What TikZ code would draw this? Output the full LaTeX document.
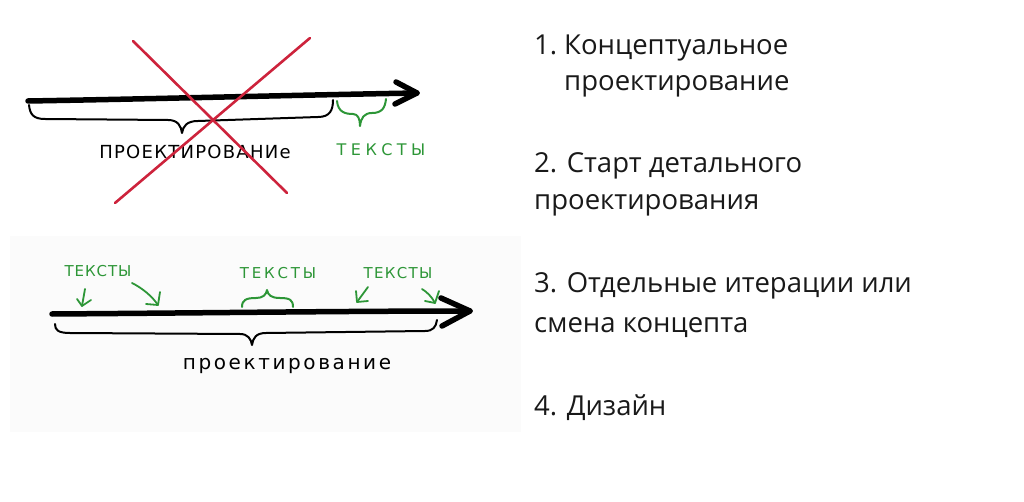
\documentclass[tikz,border=0pt]{standalone}
\usepackage{fontspec}
\setmainfont{Open Sans}
\newfontfamily\hand{DejaVu Sans}
\newcommand{\hw}[3]{{\hand\fontsize{#1}{#1}\selectfont\addfontfeature{LetterSpace=#2}#3}}
\definecolor{mkgreen}{RGB}{45,150,55}
\definecolor{mkred}{RGB}{205,35,60}
\definecolor{paper}{RGB}{251,251,251}
\definecolor{ink}{RGB}{25,25,25}
\tikzset{
  marker/.style={line width=5.5pt, line cap=round, line join=round, black},
  brace/.style={line width=2pt, line cap=round, line join=round},
  gbrace/.style={brace, mkgreen},
  garrow/.style={line width=1.8pt, line cap=round, line join=round, mkgreen},
  cross/.style={line width=2.6pt, line cap=round, mkred},
  handtxt/.style={inner sep=0pt},
  listtxt/.style={font=\fontsize{27.5}{40}\selectfont, text=ink, anchor=base west, inner sep=0pt}
}
\begin{document}
\begin{tikzpicture}[x=1pt,y=-1pt]
\useasboundingbox (0,0) rectangle (1024,502);
\fill[paper] (10,236) rectangle (521,432);

% ---------- top diagram ----------
\coordinate (a1s) at (28,101);
\coordinate (a1e) at (417,93);
\draw[marker] (a1s) .. controls (150,99) and (300,95) .. (a1e);
\draw[marker] (396,82) -- (a1e) -- (395,104);

% black brace
\coordinate (b1l) at (29,105);
\coordinate (b1t) at (182,133);
\coordinate (b1r) at (333,100);
\draw[brace] (b1l) .. controls (30,114) and (33,119) .. (45,119)
  -- (168,120) .. controls (178,120) and (181,126) .. (b1t)
  .. controls (183,126) and (187,121) .. (198,121)
  -- (318,117) .. controls (330,117) and (333,110) .. (b1r);
\node[handtxt] (proj1) at (195,152) {\hw{18}{7}{ПРОЕКТИРОВАНИе}};

% green brace
\coordinate (g1l) at (337,101);
\coordinate (g1t) at (360,126);
\coordinate (g1r) at (386,99);
\draw[gbrace] (g1l) .. controls (338,112) and (345,114) .. (353,114)
  .. controls (358,114) and (360,119) .. (g1t)
  .. controls (361,118) and (364,113) .. (372,113)
  .. controls (382,113) and (385,108) .. (g1r);
\node[handtxt, text=mkgreen] (txt1) at (381,150) {\hw{16}{28}{ТЕКСТЫ}};

% red cross
\coordinate (c1a) at (133,41);
\coordinate (c1b) at (287,193);
\coordinate (c2a) at (310,38);
\coordinate (c2b) at (115,203);
\draw[cross] (c1a) -- (c1b);
\draw[cross] (c2a) -- (c2b);

% ---------- bottom diagram ----------
\coordinate (a2s) at (52,314);
\coordinate (a2e) at (470,311);
\draw[marker] (a2s) .. controls (200,313) and (350,311) .. (a2e);
\draw[marker] (441,298) -- (a2e) -- (442,326);

% black brace
\coordinate (b2l) at (55,324);
\coordinate (b2t) at (252,345);
\coordinate (b2r) at (437,320);
\draw[brace] (b2l) .. controls (55,330) and (58,333) .. (70,333)
  -- (240,334) .. controls (248,334) and (251,339) .. (b2t)
  .. controls (253,338) and (256,333) .. (266,333)
  -- (425,331) .. controls (433,331) and (436,327) .. (b2r);
\node[handtxt] (proj2) at (287,366) {\hw{20}{13}{проектирование}};

% green labels
\node[handtxt, text=mkgreen] (t1) at (98,271) {\hw{15}{6}{ТЕКСТЫ}};
\node[handtxt, text=mkgreen] (t2) at (278,273) {\hw{15}{19}{ТЕКСТЫ}};
\node[handtxt, text=mkgreen] (t3) at (398,273) {\hw{15}{9}{ТЕКСТЫ}};

% green arrows
\coordinate (p1s) at (85,289);
\coordinate (p1e) at (82,306);
\draw[garrow] (p1s) -- (p1e);
\draw[garrow] (77,299) -- (p1e) -- (91,300);

\coordinate (p2s) at (132,283);
\coordinate (p2e) at (158,305);
\draw[garrow] (p2s) .. controls (142,288) and (152,296) .. (p2e);
\draw[garrow] (146,304) -- (p2e) -- (160,292);

\coordinate (p3s) at (368,287);
\coordinate (p3e) at (357,302);
\draw[garrow] (p3s) -- (p3e);
\draw[garrow] (356,291) -- (p3e) -- (368,301);

\coordinate (p4s) at (422,289);
\coordinate (p4e) at (435,303);
\draw[garrow] (p4s) .. controls (427,292) and (432,297) .. (p4e);
\draw[garrow] (425,301) -- (p4e) -- (439,291);

% upward green brace
\coordinate (g2l) at (242,307);
\coordinate (g2t) at (267,290);
\coordinate (g2r) at (293,307);
\draw[gbrace] (g2l) .. controls (242,300) and (246,298) .. (256,298)
  .. controls (263,298) and (266,295) .. (g2t)
  .. controls (268,295) and (271,298) .. (280,298)
  .. controls (290,298) and (293,300) .. (g2r);

% ---------- list ----------
\node[listtxt] (n1) at (534,55) {1.};
\node[listtxt] (l1) at (564,55) {Концептуальное};
\node[listtxt] (l1b) at (564,91) {проектирование};
\node[listtxt] (l2) at (534,173) {2. Старт детального};
\node[listtxt] (l2b) at (534,210) {проектирования};
\node[listtxt] (l3) at (534,293) {3. Отдельные итерации или};
\node[listtxt] (l3b) at (534,332) {смена концепта};
\node[listtxt] (l4) at (534,415) {4. Дизайн};
\end{tikzpicture}
\end{document}
